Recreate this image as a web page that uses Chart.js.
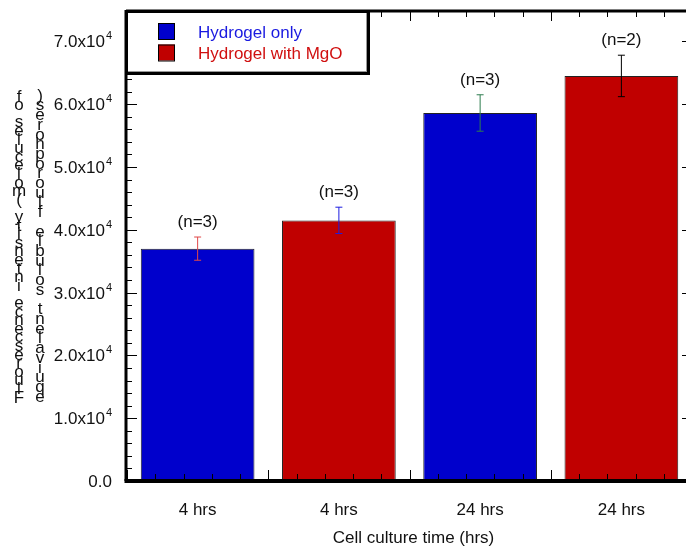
<!DOCTYPE html>
<html>
<head>
<meta charset="utf-8">
<title>Fluorescence intensity by culture time</title>
<script src="https://cdn.jsdelivr.net/npm/chart.js@4.4.1/dist/chart.umd.min.js"></script>
<style>
  html, body { margin: 0; padding: 0; background: #fff; overflow: hidden; }
  #wrap { width: 686px; height: 552px; overflow: hidden; }
  canvas { display: block; }
</style>
</head>
<body>
<div id="wrap"><canvas id="barChart" width="700" height="552"></canvas></div>
<script>
// data
const categories = ['4 hrs', '4 hrs', '24 hrs', '24 hrs'];
const seriesNames = ['Hydrogel only', 'Hydrogel with MgO'];
const seriesOfBar = [0, 1, 0, 1];
const meanValues = [37000, 41500, 58600, 64500];
const errorValues = [1850, 2100, 2900, 3300];
const sampleLabels = ['(n=3)', '(n=3)', '(n=3)', '(n=2)'];
const yTickValues = [0, 10000, 20000, 30000, 40000, 50000, 60000, 70000];
const yTickLabels = ['0.0', '1.0x10', '2.0x10', '3.0x10', '4.0x10', '5.0x10', '6.0x10', '7.0x10'];
const yTitleLeft = 'Fluorescence intensity (molecules of';
const yTitleRight = 'equivalent soluble fluorophores)';
const xTitle = 'Cell culture time (hrs)';

// styles
const seriesColors = ['#0000cc', '#c00000'];
const legendTextColors = ['#1a1ae0', '#d01010'];
const errorColors = ['#e04848', '#1c1ce0', '#2e7d4f', '#000000'];
const FONT = "'Liberation Sans', Arial, Helvetica, sans-serif";

const datasets = seriesNames.map((name, s) => ({
  label: name,
  data: meanValues.map((v, i) => seriesOfBar[i] === s ? v : null),
  backgroundColor: seriesColors[s],
  borderColor: '#222',
  borderWidth: 1,
  borderSkipped: 'bottom',
  skipNull: true,
  barPercentage: 0.805,
  categoryPercentage: 1.0
}));

const drawExtras = {
  id: 'drawExtras',
  afterDatasetsDraw(chart) {
    const ctx = chart.ctx;
    const x = chart.scales.x;
    const y = chart.scales.y;
    const area = chart.chartArea;
    ctx.save();

    // error bars and sample sizes
    meanValues.forEach((v, i) => {
      const cx = x.getPixelForValue(i);
      const top = y.getPixelForValue(v + errorValues[i]);
      const bot = y.getPixelForValue(v - errorValues[i]);
      ctx.strokeStyle = errorColors[i];
      ctx.lineWidth = 1;
      ctx.beginPath();
      ctx.moveTo(cx, top); ctx.lineTo(cx, bot);
      ctx.moveTo(cx - 3.5, top); ctx.lineTo(cx + 3.5, top);
      ctx.moveTo(cx - 3.5, bot); ctx.lineTo(cx + 3.5, bot);
      ctx.stroke();
      ctx.fillStyle = '#111';
      ctx.font = '17px ' + FONT;
      ctx.textAlign = 'center';
      ctx.textBaseline = 'alphabetic';
      ctx.fillText(sampleLabels[i], cx, top - 10);
    });

    // ticks on y (left and right, pointing inward), minor every 2000
    ctx.strokeStyle = '#000';
    ctx.lineWidth = 1;
    ctx.beginPath();
    for (let t = 0; t <= y.max; t += 2000) {
      const py = Math.round(y.getPixelForValue(t)) + 0.5;
      const len = yTickValues.includes(t) ? 10 : 5;
      ctx.moveTo(area.left, py); ctx.lineTo(area.left + len, py);
      ctx.moveTo(area.right, py); ctx.lineTo(area.right - len, py);
    }
    // ticks on x (bottom and top, pointing inward)
    const step = x.getPixelForValue(1) - x.getPixelForValue(0);
    for (let k = 0; k <= categories.length * 5; k++) {
      const px = Math.round(area.left + k * step / 5) + 0.5;
      const len = k % 5 === 0 ? 9 : 5;
      ctx.moveTo(px, area.bottom - 2); ctx.lineTo(px, area.bottom - 2 - len);
      ctx.moveTo(px, area.top + 2); ctx.lineTo(px, area.top + 2 + len);
    }
    ctx.stroke();

    // frame
    ctx.lineWidth = 3;
    ctx.beginPath();
    ctx.moveTo(area.left - 1, area.top + 1); ctx.lineTo(area.right, area.top + 1);
    ctx.moveTo(area.left - 1, area.top); ctx.lineTo(area.left - 1, area.bottom);
    ctx.moveTo(area.right, area.top); ctx.lineTo(area.right, area.bottom);
    ctx.stroke();
    ctx.lineWidth = 4;
    ctx.beginPath();
    ctx.moveTo(area.left - 2.5, area.bottom); ctx.lineTo(area.right, area.bottom);
    ctx.stroke();

    // y tick labels, with superscript exponent
    ctx.fillStyle = '#111';
    ctx.textBaseline = 'alphabetic';
    ctx.textAlign = 'right';
    yTickValues.forEach((val, k) => {
      const py = y.getPixelForValue(val);
      if (val === 0) {
        ctx.font = '17px ' + FONT;
        ctx.fillText(yTickLabels[k], 112, py + 6);
      } else {
        ctx.font = '11px ' + FONT;
        ctx.fillText('4', 112, py - 2);
        const w = ctx.measureText('4').width;
        ctx.font = '17px ' + FONT;
        ctx.fillText(yTickLabels[k], 112 - w - 1, py + 6);
      }
    });

    // x labels and title
    ctx.font = '17px ' + FONT;
    ctx.textAlign = 'center';
    categories.forEach((c, i) => {
      ctx.fillText(x.getLabelForValue(i), x.getPixelForValue(i), 515);
    });
    ctx.fillText(xTitle, (area.left + area.right) / 2 + 4, 543);

    // y title, characters stacked upright (as in the reference)
    ctx.font = '17px ' + FONT;
    ctx.textBaseline = 'middle';
    [[yTitleLeft, 19, 97, 398], [yTitleRight, 40, 96, 397]].forEach(([txt, cx, y0, y1]) => {
      const chars = [...txt].reverse();
      const gap = (y1 - y0) / (chars.length - 1);
      chars.forEach((ch, k) => ctx.fillText(ch, cx, y0 + k * gap));
    });

    // legend box
    const lx = 125, ly = 10, lw = 245, lh = 65;
    ctx.fillStyle = '#fff';
    ctx.fillRect(lx, ly, lw, lh);
    ctx.strokeStyle = '#999';
    ctx.lineWidth = 1;
    ctx.beginPath();
    ctx.moveTo(lx + 2, ly + lh - 3.5); ctx.lineTo(lx + lw - 3, ly + lh - 3.5);
    ctx.moveTo(lx + lw - 3.5, ly + 2); ctx.lineTo(lx + lw - 3.5, ly + lh - 3);
    ctx.stroke();
    ctx.strokeStyle = '#000';
    ctx.lineWidth = 3;
    ctx.strokeRect(lx + 1.5, ly + 1.5, lw - 3, lh - 3);
    ctx.textAlign = 'left';
    ctx.textBaseline = 'alphabetic';
    ctx.font = '17px ' + FONT;
    seriesNames.forEach((name, s) => {
      const sy = 23 + s * 21.5;
      ctx.fillStyle = seriesColors[s];
      ctx.fillRect(158, sy, 17, 16);
      ctx.strokeStyle = '#000';
      ctx.lineWidth = 1;
      ctx.strokeRect(158.5, sy + 0.5, 16, 16);
      ctx.fillStyle = legendTextColors[s];
      ctx.fillText(name, 198, 38 + s * 20.5);
    });

    ctx.restore();
  }
};

const ctx = document.getElementById('barChart').getContext('2d');
const myBarChart = new Chart(ctx, {
  type: 'bar',
  data: {
    labels: categories,
    datasets: datasets
  },
  options: {
    responsive: false,
    devicePixelRatio: 1,
    animation: false,
    layout: { padding: { left: 127, top: 10, right: 8, bottom: 71 } },
    plugins: {
      legend: { display: false },
      tooltip: { enabled: false }
    },
    scales: {
      x: { display: false, offset: true },
      y: { display: false, min: 0, max: 75000 }
    }
  },
  plugins: [drawExtras]
});
</script>
</body>
</html>
